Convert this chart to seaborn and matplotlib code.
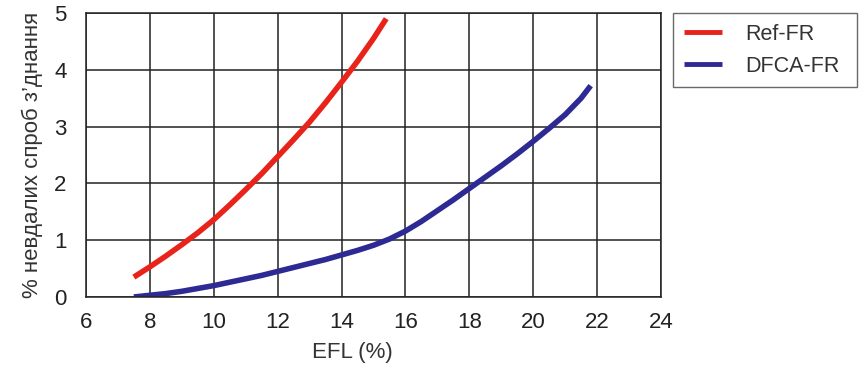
import matplotlib
matplotlib.use("Agg")
import matplotlib.pyplot as plt
import numpy as np
import pandas as pd
import seaborn as sns

# Data
REF_EFL = [7.5, 8, 8.5, 9, 9.5, 10, 10.5, 11, 11.5, 12, 12.5, 13, 13.5, 14, 14.5, 15, 15.4]
REF_FAIL = [0.35, 0.53, 0.72, 0.92, 1.13, 1.36, 1.62, 1.89, 2.17, 2.47, 2.77, 3.08, 3.42,
            3.78, 4.15, 4.55, 4.9]

DFCA_EFL = [7.5, 8, 8.5, 9, 9.5, 10, 10.5, 11, 11.5, 12, 12.5, 13, 13.5, 14, 14.5, 15,
            15.5, 16, 16.5, 17, 17.5, 18, 18.5, 19, 19.5, 20, 20.5, 21, 21.5, 21.8]
DFCA_FAIL = [0.0, 0.03, 0.06, 0.1, 0.15, 0.2, 0.26, 0.32, 0.38, 0.45, 0.52, 0.59, 0.66,
             0.74, 0.82, 0.91, 1.02, 1.16, 1.33, 1.52, 1.71, 1.91, 2.11, 2.31, 2.52, 2.74,
             2.97, 3.21, 3.5, 3.72]

SERIES = ["Ref-FR", "DFCA-FR"]
COLORS = ["#e8231a", "#2e2a94"]

X_TICKS = [6, 8, 10, 12, 14, 16, 18, 20, 22, 24]
Y_TICKS = [0, 1, 2, 3, 4, 5]

df = pd.concat([
    pd.DataFrame({"efl": REF_EFL, "fail": REF_FAIL, "series": SERIES[0]}),
    pd.DataFrame({"efl": DFCA_EFL, "fail": DFCA_FAIL, "series": SERIES[1]}),
])

sns.set_style("white")
plt.rcParams["font.family"] = ["Liberation Sans", "DejaVu Sans"]

fig = plt.figure(figsize=(8.68, 3.71), dpi=100)
ax = fig.add_axes([0.099, 0.1995, 0.6625, 0.7655])

sns.lineplot(data=df, x="efl", y="fail", hue="series", hue_order=SERIES,
             palette=COLORS, linewidth=4.0, ax=ax, sort=True, estimator=None)
for line in ax.get_lines():
    line.set_solid_capstyle("butt")
    line.set_solid_joinstyle("round")

ax.set_xlim(6, 24)
ax.set_ylim(0, 5)
ax.set_xticks(X_TICKS)
ax.set_yticks(Y_TICKS)
ax.grid(True, color="#222222", linewidth=1.1)
ax.set_axisbelow(True)
for s in ax.spines.values():
    s.set_color("#222222")
    s.set_linewidth(1.1)
ax.tick_params(axis="both", length=0, labelsize=16, colors="#222222")
ax.tick_params(axis="x", pad=11)
ax.tick_params(axis="y", pad=14)
ax.set_xlabel("EFL (%)", fontsize=16, color="#333333")
ax.xaxis.set_label_coords(0.464, -0.16)
ax.set_ylabel("% невдалих спроб з’днання", fontsize=16, color="#333333", labelpad=8)

leg = ax.legend(loc="upper left", bbox_to_anchor=(0.7753, 0.765, 0.212, 0.2),
                bbox_transform=fig.transFigure, mode="expand", frameon=True,
                fancybox=False, fontsize=15.5, handlelength=1.8, borderpad=0.5,
                labelspacing=0.5, handletextpad=1.05, borderaxespad=0)
leg.get_frame().set_edgecolor("#444444")
leg.get_frame().set_linewidth(1.0)
for line in leg.get_lines():
    line.set_linewidth(3.5)
for t in leg.get_texts():
    t.set_color("#333333")

fig.savefig("out.png", dpi=100)
